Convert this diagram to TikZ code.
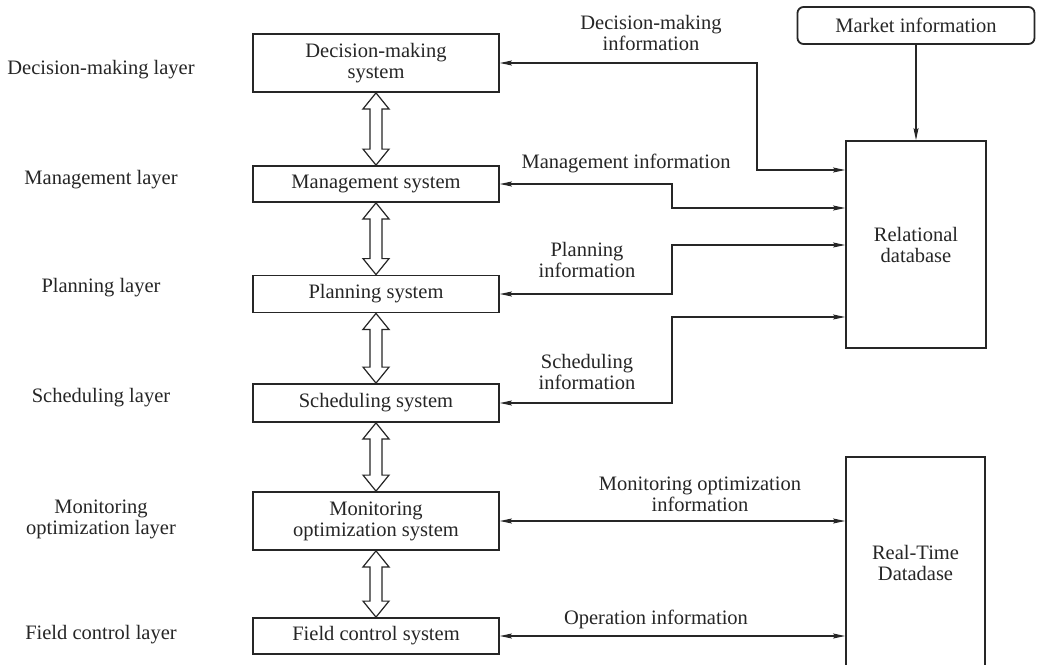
\documentclass[tikz,border=0pt]{standalone}
\usepackage{fontspec}
\setmainfont{Liberation Serif}
\usetikzlibrary{arrows.meta,calc}
\definecolor{ink}{HTML}{262626}
\newcommand\dblarrow[2]{%
  \draw[hollowarrow] let \p1=(#1.south), \p2=(#2.north) in
    (\x1,\y1) -- (\x1+13pt,\y1-16pt) -- (\x1+6pt,\y1-16pt) -- (\x1+6pt,\y2+16pt)
    -- (\x1+13pt,\y2+16pt) -- (\x1,\y2) -- (\x1-13pt,\y2+16pt) -- (\x1-6pt,\y2+16pt)
    -- (\x1-6pt,\y1-16pt) -- (\x1-13pt,\y1-16pt) -- cycle;}
\begin{document}
\begin{tikzpicture}[x=1pt,y=-1pt,
  every node/.style={text=ink,font=\fontsize{20.5}{21}\selectfont,align=center,inner sep=0pt},
  sysbox/.style={draw=ink,line width=1.8pt,minimum width=246pt},
  dbbox/.style={draw=ink,line width=1.8pt},
  layerlabel/.style={},
  infolabel/.style={},
  biarr/.style={draw=ink,line width=1.1pt,{Stealth[length=12pt,width=5pt,inset=2pt]}-{Stealth[length=12pt,width=5pt,inset=2pt]}},
  onearr/.style={draw=ink,line width=1.1pt,-{Stealth[length=12pt,width=5pt,inset=2pt]}},
  hollowarrow/.style={draw=ink,line width=1.2pt,fill=white,line join=miter}]
\useasboundingbox (0,0) rectangle (1044,664);
\clip (0,0) rectangle (1044,664);
\fill[white] (0,0) rectangle (1044,664);

% layer labels
\node[layerlabel] (l1) at (101,70) {Decision-making layer};
\node[layerlabel] (l2) at (101,180) {Management layer};
\node[layerlabel] (l3) at (101,288) {Planning layer};
\node[layerlabel] (l4) at (101,398) {Scheduling layer};
\node[layerlabel] (l5) at (101,519) {Monitoring\\optimization layer};
\node[layerlabel] (l6) at (101,635) {Field control layer};

% system boxes
\node[sysbox,minimum height=58pt] (dec) at (376,63) {Decision-making\\system};
\node[sysbox,minimum height=36pt] (man) at (376,184) {Management system};
\node[sysbox,minimum height=37pt] (pla) at (376,294) {Planning system};
\node[sysbox,minimum height=38pt] (sch) at (376,403) {Scheduling system};
\node[sysbox,minimum height=58pt] (mon) at (376,521) {Monitoring\\optimization system};
\node[sysbox,minimum height=36pt] (fld) at (376,636) {Field control system};

% databases
\node[dbbox,rounded corners=6pt,minimum width=237pt,minimum height=37pt] (mkt) at (916,25.5) {Market information};
\node[dbbox,minimum width=140pt,minimum height=207pt] (rel) at (916,244.5) {Relational\\database};
\node[dbbox,minimum width=139pt,minimum height=212pt] (rtd) at (915.5,563) {Real-Time\\Datadase};

% hollow double arrows
\dblarrow{dec}{man}
\dblarrow{man}{pla}
\dblarrow{pla}{sch}
\dblarrow{sch}{mon}
\dblarrow{mon}{fld}

% information connectors
\draw[biarr] (dec.east) -| (757,170) -- (rel.west |- 0,170);
\draw[biarr] (man.east) -| (672,208) -- (rel.west |- 0,208);
\draw[biarr] (pla.east) -| (672,245) -- (rel.west |- 0,245);
\draw[biarr] (sch.east) -| (672,317) -- (rel.west |- 0,317);
\draw[biarr] (mon.east) -- (rtd.west |- mon.east);
\draw[biarr] (fld.east) -- (rtd.west |- fld.east);
\draw[onearr] (mkt.south) -- (rel.north);

% connector labels
\node[infolabel] (i1) at (651,32.5) {Decision-making\\information};
\node[infolabel] (i2) at (626,163) {Management information};
\node[infolabel] (i3) at (587,260) {Planning\\information};
\node[infolabel] (i4) at (587,371.5) {Scheduling\\information};
\node[infolabel] (i5) at (700,494.5) {Monitoring optimization\\information};
\node[infolabel] (i6) at (656,619) {Operation information};
\end{tikzpicture}
\end{document}
